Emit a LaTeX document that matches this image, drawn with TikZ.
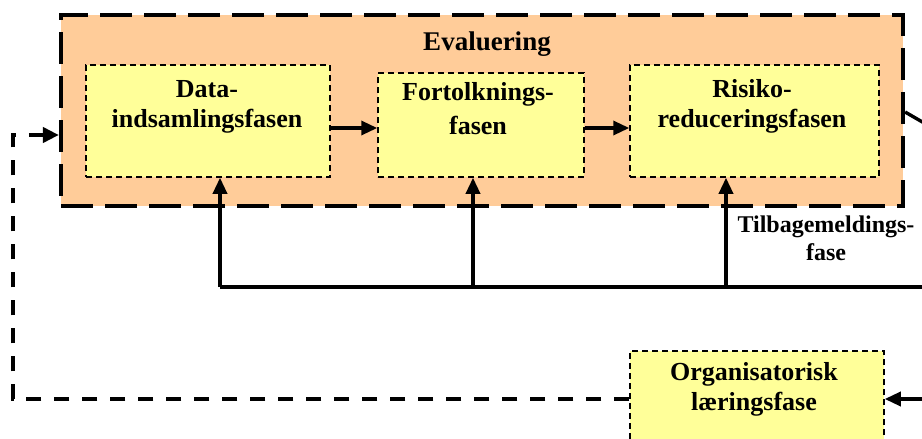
\documentclass[tikz,border=0pt]{standalone}
\usepackage{fontspec}
\setmainfont{Liberation Serif}
\usetikzlibrary{arrows.meta}
\definecolor{peach}{HTML}{FFCC99}
\definecolor{paleyellow}{HTML}{FFFF99}

\tikzset{
  outerframe/.style={draw, fill=peach, line width=4.2pt, dash pattern=on 32pt off 12pt,
    minimum width=842pt, minimum height=191pt, inner sep=0pt},
  phasebox/.style={draw, fill=paleyellow, line width=1.5pt, dash pattern=on 6pt off 4pt, inner sep=0pt},
  phasetext/.style={font=\fontsize{26}{30}\selectfont\bfseries, align=center, anchor=base, inner sep=0pt},
  titletext/.style={font=\fontsize{27}{30}\selectfont\bfseries, anchor=base, inner sep=0pt},
  sidetext/.style={font=\fontsize{24}{28}\selectfont\bfseries, align=center, anchor=base, inner sep=0pt},
  flowarrow/.style={line width=3.4pt, -{Triangle[length=16pt,width=14pt]}},
  solidline/.style={line width=3.4pt},
  feedbackline/.style={line width=4pt, dash pattern=on 15pt off 13pt, -{Triangle[length=16pt,width=15pt]}},
}

\begin{document}
\begin{tikzpicture}[x=1pt,y=-1pt]
  \useasboundingbox (0,0) rectangle (922,439);
  \clip (0,0) rectangle (922,439);

  % evaluation frame and its three phases
  \node[outerframe] (eval) at (482,110.5) {};
  \node[titletext] (evaltxt) at (487,50) {Evaluering};

  \node[phasebox, minimum width=244pt, minimum height=112pt] (A) at (208,121) {};
  \node[phasebox, minimum width=206pt, minimum height=104pt] (B) at (481,125) {};
  \node[phasebox, minimum width=249pt, minimum height=112pt] (C) at (754.5,121) {};

  % multi-line labels are placed by the baseline of their last line
  \node[phasetext] (Atxt) at (207,127) {Data-\\indsamlingsfasen};
  \node[phasetext] (Btxt) at (478,134) {Fortolknings-\\[4pt]fasen};
  \node[phasetext] (Ctxt) at (752,127) {Risiko-\\reduceringsfasen};

  \draw[flowarrow] ([yshift=-7pt]A.east) -- ([yshift=-3pt]B.west);
  \draw[flowarrow] ([yshift=-3pt]B.east) -- ([yshift=-7pt]C.west);

  % feedback bus below the frame
  \coordinate (busL) at (220,287);
  \coordinate (tapB) at (473,287);
  \coordinate (tapC) at (726,287);
  \coordinate (busR) at (935,287);
  \draw[solidline] (busR) -- (busL);
  \draw[flowarrow] (busL) -- (busL |- A.south);
  \draw[flowarrow] (tapB) -- (tapB |- B.south);
  \draw[flowarrow] (tapC) -- (tapC |- C.south);

  \node[sidetext] (fbtxt) at (826,260) {Tilbagemeldings-\\fase};

  % outgoing line on the right of the frame
  \coordinate (diagEnd) at (950,138);
  \draw[solidline] ([yshift=-1.5pt]eval.east) -- (diagEnd);

  % organisational learning
  \node[phasebox, minimum width=254pt, minimum height=120pt] (org) at (757,411) {};
  \node[phasetext] (orgtxt) at (754,410) {Organisatorisk\\læringsfase};

  \coordinate (orgIn) at (940,399);
  \draw[flowarrow] (orgIn) -- (orgIn -| org.east);

  \coordinate (fbLow) at (13,399);
  \coordinate (fbHigh) at (13,135);
  \draw[feedbackline] (orgIn -| org.west) -- (fbLow) -- (fbHigh) -- (fbHigh -| eval.west);
\end{tikzpicture}
\end{document}
